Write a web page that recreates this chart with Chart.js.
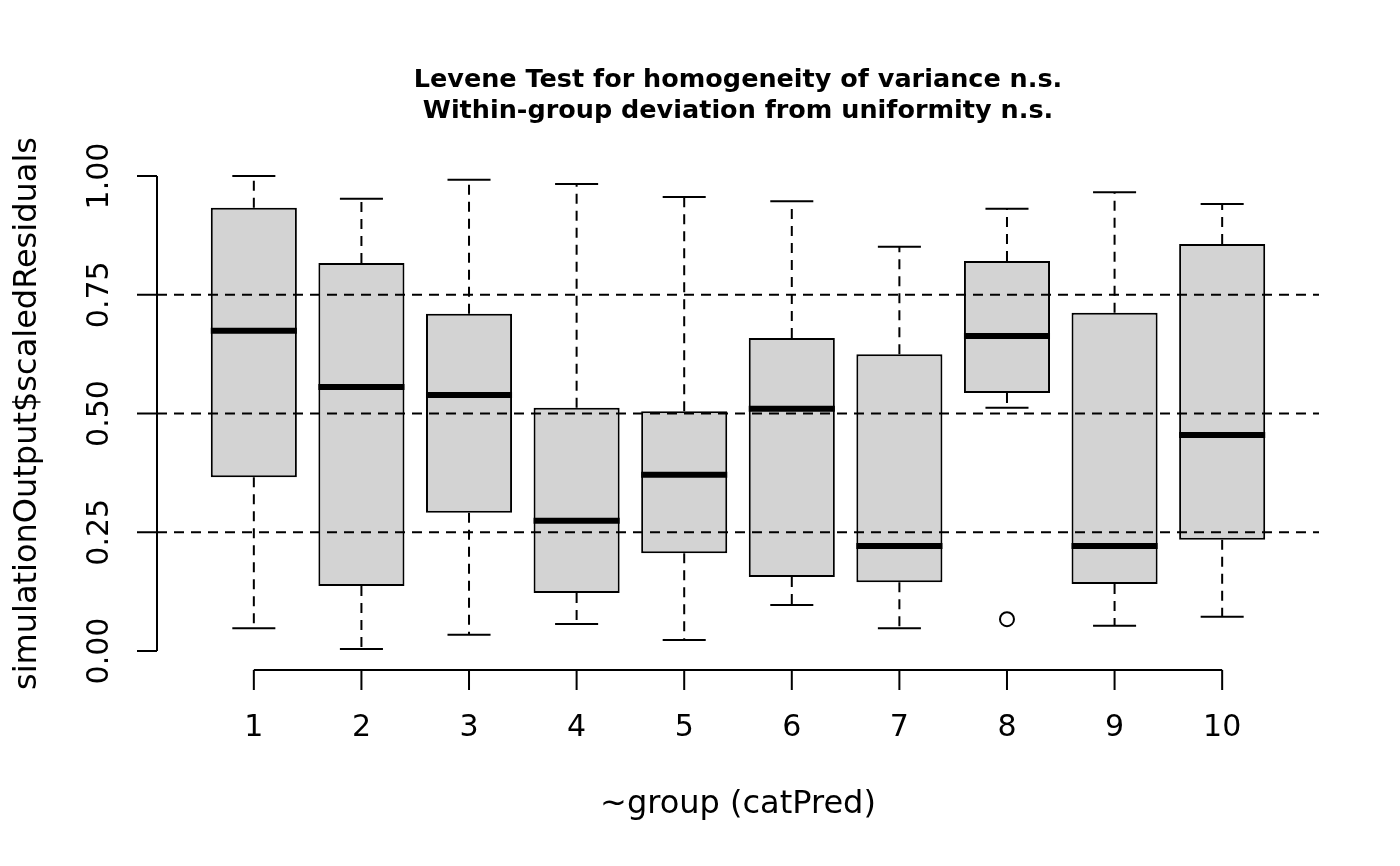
<!DOCTYPE html>
<html>
<head>
<meta charset="utf-8">
<script src="https://cdn.jsdelivr.net/npm/chart.js@4"></script>
<style>
  html, body { margin: 0; padding: 0; background: #fff; }
  canvas { display: block; }
</style>
</head>
<body>
<canvas id="canvas" width="1400" height="866"></canvas>
<script>
// groupes (catPred) et statistiques des boites
const groups = [1, 2, 3, 4, 5, 6, 7, 8, 9, 10];
const whiskerLow  = [0.048, 0.004, 0.034, 0.057, 0.023, 0.097, 0.048, 0.512, 0.053, 0.072];
const q1          = [0.366, 0.137, 0.291, 0.122, 0.206, 0.156, 0.145, 0.543, 0.141, 0.234];
const medians     = [0.674, 0.556, 0.539, 0.274, 0.371, 0.510, 0.221, 0.663, 0.221, 0.455];
const q3          = [0.933, 0.817, 0.710, 0.512, 0.505, 0.659, 0.625, 0.821, 0.712, 0.857];
const whiskerHigh = [1.000, 0.952, 0.992, 0.983, 0.956, 0.947, 0.851, 0.931, 0.966, 0.941];
const outlierGroups = [8];
const outlierValues = [0.067];
const yTicks = [0, 0.25, 0.5, 0.75, 1];
const yTickLabels = ['0.00', '0.25', '0.50', '0.75', '1.00'];
const refLines = [0.25, 0.5, 0.75];

const titleLines = ['Levene Test for homogeneity of variance n.s.', 'Within-group deviation from uniformity n.s.'];
const xTitle = '~group (catPred)';
const yTitle = 'simulationOutput$scaledResiduals';

const FONT = '"DejaVu Sans", "Liberation Sans", sans-serif';

// dessin des medianes, moustaches, lignes de reference, axes et textes (style R)
const boxplotDecor = {
  id: 'boxplotDecor',
  afterDatasetsDraw(chart) {
    const ctx = chart.ctx;
    const x = chart.scales.x;
    const y = chart.scales.y;
    const area = chart.chartArea;
    const boxMeta = chart.getDatasetMeta(0);

    ctx.save();
    ctx.strokeStyle = '#000';
    ctx.lineCap = 'butt';

    groups.forEach((g, i) => {
      const bar = boxMeta.data[i];
      const half = bar.width / 2;
      const cx = x.getPixelForValue(g);

      // moustaches pointillees
      ctx.setLineDash([10, 7]);
      ctx.lineWidth = 2;
      ctx.beginPath();
      ctx.moveTo(cx, y.getPixelForValue(q3[i]));
      ctx.lineTo(cx, y.getPixelForValue(whiskerHigh[i]));
      ctx.moveTo(cx, y.getPixelForValue(q1[i]));
      ctx.lineTo(cx, y.getPixelForValue(whiskerLow[i]));
      ctx.stroke();

      // embouts
      ctx.setLineDash([]);
      ctx.beginPath();
      [whiskerHigh[i], whiskerLow[i]].forEach(v => {
        const py = y.getPixelForValue(v);
        ctx.moveTo(cx - half / 2, py);
        ctx.lineTo(cx + half / 2, py);
      });
      ctx.stroke();

      // mediane
      ctx.lineWidth = 6;
      ctx.beginPath();
      const my = y.getPixelForValue(medians[i]);
      ctx.moveTo(cx - half, my);
      ctx.lineTo(cx + half, my);
      ctx.stroke();
    });

    // lignes de reference horizontales
    ctx.lineWidth = 2;
    ctx.setLineDash([10, 7]);
    ctx.beginPath();
    refLines.forEach(v => {
      const py = y.getPixelForValue(v);
      ctx.moveTo(area.left, py);
      ctx.lineTo(area.right, py);
    });
    ctx.stroke();
    ctx.setLineDash([]);

    // axe y
    const tick = 20;
    ctx.beginPath();
    ctx.moveTo(area.left, y.getPixelForValue(yTicks[0]));
    ctx.lineTo(area.left, y.getPixelForValue(yTicks[yTicks.length - 1]));
    yTicks.forEach(v => {
      const py = y.getPixelForValue(v);
      ctx.moveTo(area.left - tick, py);
      ctx.lineTo(area.left, py);
    });
    // axe x
    ctx.moveTo(x.getPixelForValue(groups[0]), area.bottom);
    ctx.lineTo(x.getPixelForValue(groups[groups.length - 1]), area.bottom);
    groups.forEach(g => {
      const px = x.getPixelForValue(g);
      ctx.moveTo(px, area.bottom);
      ctx.lineTo(px, area.bottom + tick);
    });
    ctx.stroke();

    ctx.fillStyle = '#000';
    ctx.textAlign = 'center';
    ctx.textBaseline = 'middle';
    ctx.font = '30px ' + FONT;

    groups.forEach(g => {
      ctx.fillText(String(g), x.getPixelForValue(g), 728);
    });

    yTickLabels.forEach((lab, i) => {
      ctx.save();
      ctx.translate(100, y.getPixelForValue(yTicks[i]));
      ctx.rotate(-Math.PI / 2);
      ctx.fillText(lab, 0, 0);
      ctx.restore();
    });

    const midX = (area.left + area.right) / 2;
    const midY = (area.top + area.bottom) / 2;

    ctx.font = '32px ' + FONT;
    ctx.fillText(xTitle, midX, 805);

    ctx.save();
    ctx.translate(28, midY);
    ctx.rotate(-Math.PI / 2);
    ctx.fillText(yTitle, 0, 0);
    ctx.restore();

    ctx.font = 'bold 25.5px ' + FONT;
    ctx.fillText(titleLines[0], midX, 80);
    ctx.fillText(titleLines[1], midX, 111);

    ctx.restore();
  }
};

new Chart(document.getElementById('canvas'), {
  type: 'bar',
  data: {
    datasets: [
      {
        type: 'bar',
        data: groups.map((g, i) => ({ x: g, y: [q1[i], q3[i]] })),
        backgroundColor: '#d3d3d3',
        borderColor: '#000',
        borderWidth: 2,
        borderSkipped: false,
        barPercentage: 0.8,
        categoryPercentage: 1,
        order: 2
      },
      {
        type: 'scatter',
        data: outlierGroups.map((g, i) => ({ x: g, y: outlierValues[i] })),
        pointStyle: 'circle',
        pointRadius: 7,
        borderColor: '#000',
        backgroundColor: 'rgba(0,0,0,0)',
        borderWidth: 2,
        order: 1
      }
    ]
  },
  options: {
    responsive: false,
    animation: false,
    devicePixelRatio: 1,
    layout: { padding: { left: 157, right: 81, top: 157, bottom: 196 } },
    plugins: {
      legend: { display: false },
      tooltip: { enabled: false },
      title: { display: false }
    },
    scales: {
      x: {
        type: 'linear', min: 0.1, max: 10.9, offset: false, display: false,
        // un tick par groupe, pour que la largeur des boites suive l'ecart entre groupes
        afterBuildTicks: scale => { scale.ticks = groups.map(v => ({ value: v })); }
      },
      y: { type: 'linear', min: -0.04, max: 1.04, display: false }
    }
  },
  plugins: [boxplotDecor]
});
</script>
</body>
</html>
